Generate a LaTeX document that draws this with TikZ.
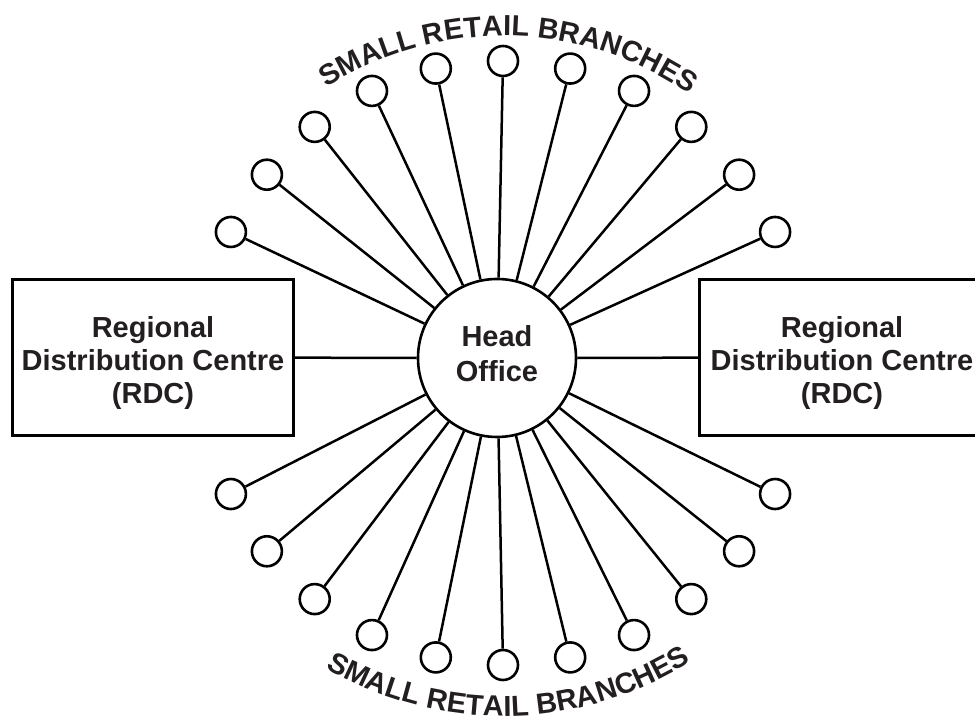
\documentclass[tikz,border=0pt]{standalone}
\usepackage{fontspec}
\setmainfont{Liberation Sans}
\usetikzlibrary{decorations.text}
\definecolor{txt}{HTML}{231F20}
\begin{document}
\begin{tikzpicture}[x=1pt,y=1pt,
  line width=2.6pt,
  branch/.style={circle,draw,minimum size=30pt,inner sep=0pt},
  hub/.style={circle,draw,minimum size=158pt,inner sep=0pt},
  hubtext/.style={font=\fontsize{29}{35}\selectfont\bfseries,text=txt,align=center,inner sep=0pt},
  rdcbox/.style={rectangle,draw,minimum width=281pt,minimum height=156pt,inner sep=0pt},
  rdctext/.style={font=\fontsize{29}{33}\selectfont\bfseries,text=txt,align=center,inner sep=0pt},
  spoke/.style={line width=2.5pt},
  arctext/.style={decorate,decoration={text along path,text align=center,
     text={|\fontsize{29}{33}\selectfont\bfseries\color{txt}|SMALL RETAIL BRANCHES}}}
]
\clip (0,0) rectangle (975,722);
\coordinate (c) at (503,359);
\node[hub] (ho) at (497,364) {};
\node[hubtext] (hot) at ([yshift=4pt]ho.center) {Head\\Office};
\node[rdcbox] (rdcL) at (153,364.5) {};
\node[rdcbox] (rdcR) at (840,364.5) {};
\node[rdctext] (rdcLt) at ([yshift=-5.5pt]rdcL.center) {Regional\\Distribution Centre\\(RDC)};
\node[rdctext] (rdcRt) at ([yshift=-5.5pt,xshift=2pt]rdcR.center) {Regional\\Distribution Centre\\(RDC)};
\draw[spoke] (rdcL) -- (ho);
\draw[spoke] (rdcR) -- (ho);
\foreach \j [count=\i] in {-5,...,5} {
  \node[branch] (t\i) at ([shift={({90+\j*360/28}:302)}]c) {};
  \draw[spoke] (ho) -- (t\i);
  \node[branch] (b\i) at ([shift={({270+\j*360/28}:302)}]c) {};
  \draw[spoke] (ho) -- (b\i);
}
\path[arctext] ([shift={(149:327)}]c) arc[start angle=149,end angle=29,radius=327pt];
\path[arctext] ([shift={(211:353)}]c) arc[start angle=211,end angle=331,radius=353pt];
\end{tikzpicture}
\end{document}
